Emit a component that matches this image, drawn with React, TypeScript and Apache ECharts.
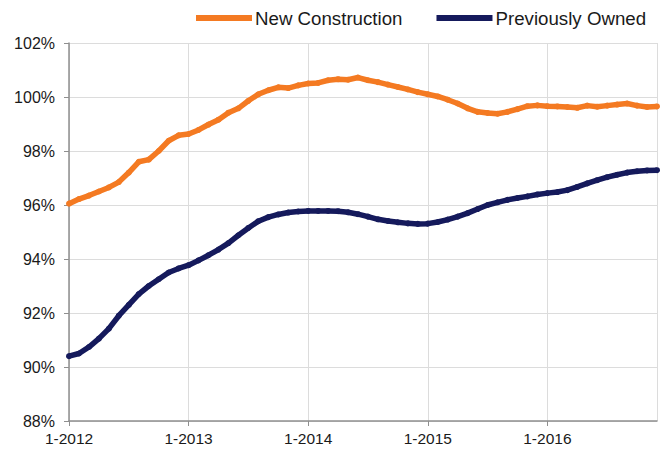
import React, { useEffect, useRef } from "react";
import * as echarts from "echarts";

const years = [2012, 2013, 2014, 2015, 2016];
const months = years.flatMap((y) => Array.from({ length: 12 }, (_, m) => `${m + 1}-${y}`));

const newConstruction = [
  96.05, 96.22, 96.35, 96.5, 96.65, 96.85, 97.2, 97.6, 97.68, 98.0,
  98.38, 98.58, 98.63, 98.78, 98.98, 99.16, 99.42, 99.58, 99.86, 100.1,
  100.25, 100.36, 100.33, 100.43, 100.5, 100.52, 100.62, 100.66, 100.64, 100.72,
  100.62, 100.55, 100.46, 100.37, 100.28, 100.18, 100.1, 100.02, 99.9, 99.76,
  99.58, 99.45, 99.41, 99.38, 99.45, 99.55, 99.66, 99.69, 99.66, 99.65,
  99.63, 99.6, 99.68, 99.64, 99.68, 99.72, 99.76, 99.68, 99.63, 99.65,
];

const previouslyOwned = [
  90.4, 90.5, 90.74, 91.05, 91.42, 91.9, 92.3, 92.7, 93.0, 93.25,
  93.5, 93.65, 93.77, 93.95, 94.14, 94.35, 94.59, 94.88, 95.15, 95.4,
  95.55, 95.65, 95.72, 95.76, 95.78, 95.78, 95.78, 95.77, 95.73, 95.66,
  95.57, 95.47, 95.41, 95.36, 95.32, 95.3, 95.31, 95.37, 95.46, 95.57,
  95.7, 95.85, 96.0, 96.1, 96.19, 96.26, 96.32, 96.39, 96.44, 96.48,
  96.55, 96.67, 96.8, 96.92, 97.03, 97.12, 97.2, 97.25, 97.28, 97.29,
];

const ORANGE = "#F47A22";
const NAVY = "#151A5C";
const FONT = "'Liberation Sans', Arial, Helvetica, sans-serif";

export default function App() {
  const ref = useRef<HTMLDivElement>(null);
  useEffect(() => {
    if (!ref.current) return;
    const chart = echarts.init(ref.current, null, { renderer: "svg" });
    const lastIdx = months.length - 1;
    chart.setOption({
      animation: false,
      backgroundColor: "#ffffff",
      textStyle: { fontFamily: FONT },
      legend: {
        left: 193,
        top: 8.5,
        padding: 0,
        itemWidth: 56,
        itemHeight: 7,
        itemGap: 31,
        lineStyle: { width: 6 },
        textStyle: { fontSize: 18.7, color: "#1a1a1a", fontFamily: FONT, padding: [0, 0, 0, -2] },
        data: ["New Construction", "Previously Owned"],
      },
      grid: { left: 69, right: 6, top: 43, bottom: 28, containLabel: false },
      xAxis: {
        type: "category",
        data: months,
        boundaryGap: false,
        axisLine: { show: true, lineStyle: { color: "#8f8f8f", width: 1.5 } },
        axisTick: {
          show: true,
          length: 5,
          interval: (i: number) => i % 12 === 0,
          lineStyle: { color: "#8f8f8f" },
        },
        axisLabel: {
          interval: (i: number) => i % 12 === 0,
          fontSize: 15.5,
          color: "#1a1a1a",
          margin: 9,
          fontFamily: FONT,
        },
        splitLine: {
          show: true,
          interval: (i: number) => i % 12 === 0 || i === lastIdx,
          lineStyle: { color: "#dcdcdc", width: 1 },
        },
      },
      yAxis: {
        type: "value",
        min: 88,
        max: 102,
        interval: 2,
        axisLine: { show: true, lineStyle: { color: "#8f8f8f", width: 1.5 } },
        axisTick: { show: true, length: 5, lineStyle: { color: "#8f8f8f" } },
        axisLabel: {
          formatter: (v: number) => `${v}%`,
          fontSize: 16,
          color: "#1a1a1a",
          margin: 14,
          fontFamily: FONT,
        },
        splitLine: { show: true, lineStyle: { color: "#dcdcdc", width: 1 } },
      },
      series: [
        {
          name: "New Construction",
          type: "line",
          data: newConstruction,
          showSymbol: true,
          symbol: "circle",
          symbolSize: 6,
          itemStyle: { color: ORANGE },
          lineStyle: { color: ORANGE, width: 5.5 },
          z: 3,
        },
        {
          name: "Previously Owned",
          type: "line",
          data: previouslyOwned,
          showSymbol: true,
          symbol: "circle",
          symbolSize: 6,
          itemStyle: { color: NAVY },
          lineStyle: { color: NAVY, width: 5.5 },
          z: 2,
        },
      ],
    });
    return () => chart.dispose();
  }, []);
  return <div ref={ref} style={{ width: 663, height: 449, position: "absolute", left: 0, top: 0 }} />;
}
